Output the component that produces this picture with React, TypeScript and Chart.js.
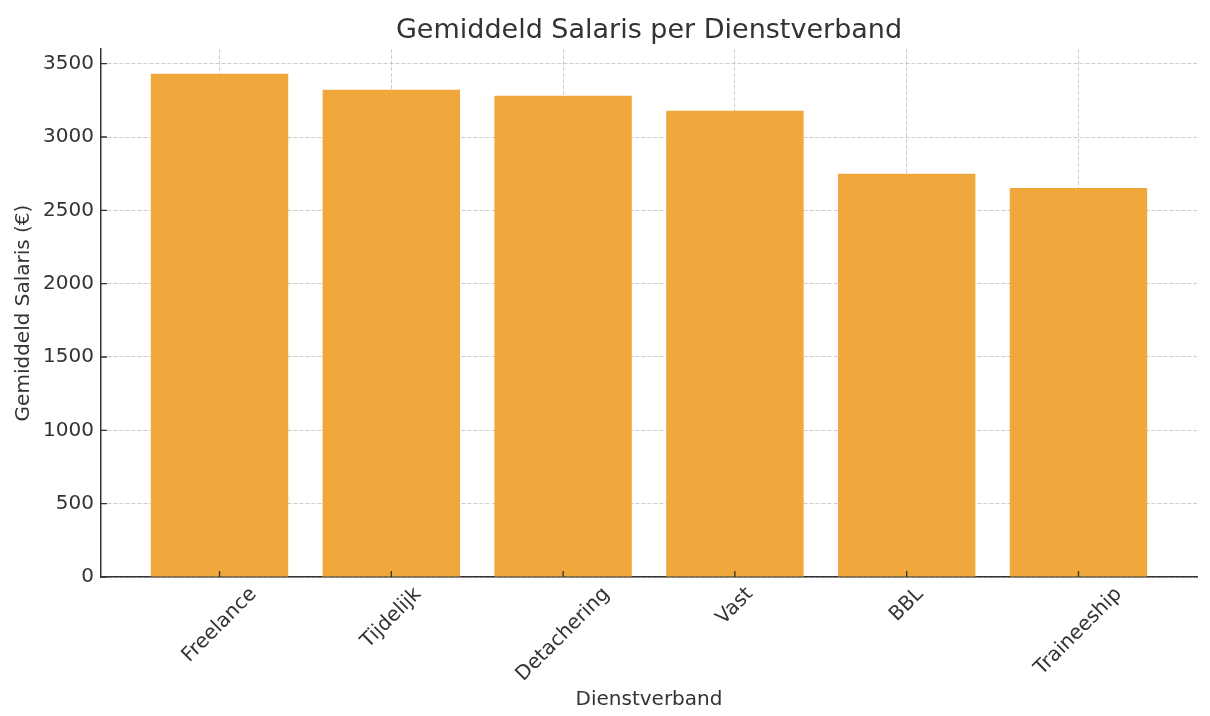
import React, { useEffect, useRef } from "react";
import { Chart, registerables } from "chart.js";

Chart.register(...registerables);

const categories = ["Freelance", "Tijdelijk", "Detachering", "Vast", "BBL", "Traineeship"];
const salaries = [3431, 3322, 3281, 3179, 2749, 2653];
const yTicks = [0, 500, 1000, 1500, 2000, 2500, 3000, 3500];
const yMax = 3600;
const xMin = -0.69;
const xMax = 5.69;

const titleText = "Gemiddeld Salaris per Dienstverband";
const xTitle = "Dienstverband";
const yTitle = "Gemiddeld Salaris (€)";

const FONT = "'DejaVu Sans', sans-serif";
const TEXT = "#333333";
const GRID = "rgba(176,176,176,0.65)";
const BAR = "#F0A83C";

export default function App() {
  const ref = useRef<HTMLCanvasElement>(null);

  useEffect(() => {
    const canvas = ref.current;
    if (!canvas) return;

    const overlay = {
      id: "mplOverlay",
      afterDraw(chart: any) {
        const { ctx, chartArea, scales } = chart;
        const xs = scales.x;
        const ys = scales.y;
        ctx.save();
        ctx.strokeStyle = TEXT;
        ctx.lineWidth = 1.3;
        ctx.beginPath();
        yTicks.forEach((v) => {
          const y = ys.getPixelForValue(v);
          ctx.moveTo(chartArea.left, y);
          ctx.lineTo(chartArea.left + 6, y);
        });
        categories.forEach((_, i) => {
          const x = xs.getPixelForValue(i);
          ctx.moveTo(x, chartArea.bottom);
          ctx.lineTo(x, chartArea.bottom - 6);
        });
        ctx.stroke();

        ctx.fillStyle = TEXT;
        ctx.textAlign = "center";
        ctx.textBaseline = "middle";

        ctx.font = `27px ${FONT}`;
        ctx.fillText(titleText, (chartArea.left + chartArea.right) / 2, 31);

        ctx.font = `20px ${FONT}`;
        categories.forEach((c, i) => {
          const x = xs.getPixelForValue(i);
          const w = ctx.measureText(c).width;
          const h = 23;
          const cy = chartArea.bottom + 6 + ((w + h) * Math.SQRT1_2) / 2;
          ctx.save();
          ctx.translate(x, cy);
          ctx.rotate(-Math.PI / 4);
          ctx.fillText(c, 0, 0);
          ctx.restore();
        });
        ctx.restore();
      },
    };

    const chart = new Chart(canvas, {
      type: "bar",
      data: {
        datasets: [
          {
            data: categories.map((_, i) => ({ x: i, y: salaries[i] })),
            backgroundColor: BAR,
            borderWidth: 0,
            barPercentage: 0.8,
            categoryPercentage: 1,
          },
        ],
      },
      options: {
        animation: false,
        responsive: false,
        maintainAspectRatio: false,
        layout: { padding: { left: 0, right: 13, top: 49, bottom: 0 } },
        plugins: {
          legend: { display: false },
          tooltip: { enabled: false },
          title: { display: false },
        },
        scales: {
          x: {
            type: "linear",
            min: xMin,
            max: xMax,
            offset: false,
            z: 1,
            afterBuildTicks(scale: any) {
              scale.ticks = categories.map((_, i) => ({ value: i }));
            },
            afterFit(scale: any) {
              scale.height = 139;
            },
            ticks: { display: false },
            grid: { color: GRID, lineWidth: 1, drawTicks: false, offset: false },
            border: { display: true, color: TEXT, width: 1.5, dash: [4, 2] },
            title: {
              display: true,
              text: xTitle,
              color: TEXT,
              font: { family: FONT, size: 20 },
              padding: { top: 0, bottom: 4 },
            },
          },
          y: {
            min: 0,
            max: yMax,
            z: 1,
            afterBuildTicks(scale: any) {
              scale.ticks = yTicks.map((v) => ({ value: v }));
            },
            afterFit(scale: any) {
              scale.width = 101;
            },
            ticks: {
              color: TEXT,
              font: { family: FONT, size: 20 },
              padding: 7,
              callback: (v: any) => String(v),
            },
            grid: { color: GRID, lineWidth: 1, drawTicks: false },
            border: { display: true, color: TEXT, width: 1.5, dash: [4, 2] },
            title: {
              display: true,
              text: yTitle,
              color: TEXT,
              font: { family: FONT, size: 20 },
              padding: { top: 12, bottom: 0 },
            },
          },
        },
      },
      plugins: [overlay],
    } as any);

    return () => chart.destroy();
  }, []);

  return (
    <div style={{ position: "absolute", left: 0, top: 0, width: 1210, height: 716 }}>
      <canvas ref={ref} width={1210} height={716} style={{ display: "block" }} />
    </div>
  );
}
